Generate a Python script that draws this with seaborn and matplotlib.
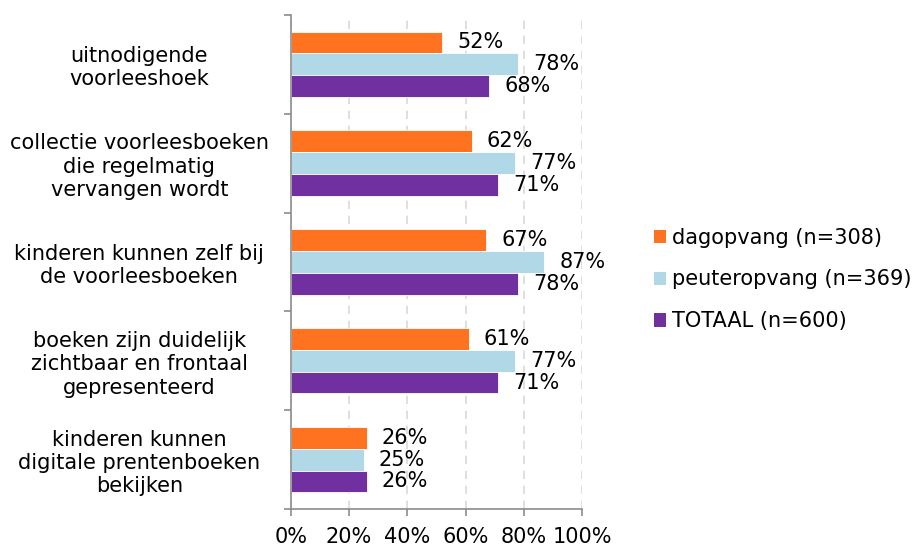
import pandas as pd
import matplotlib.pyplot as plt
import seaborn as sns
import matplotlib.ticker as mticker
from matplotlib.patches import Patch

sns.set_theme(style="white")
plt.rcParams['font.family'] = ['DejaVu Sans']

categorieen = [
    "uitnodigende\nvoorleeshoek",
    "collectie voorleesboeken\ndie regelmatig\nvervangen wordt",
    "kinderen kunnen zelf bij\nde voorleesboeken",
    "boeken zijn duidelijk\nzichtbaar en frontaal\ngepresenteerd",
    "kinderen kunnen\ndigitale prentenboeken\nbekijken",
]
reeksen = ["dagopvang (n=308)", "peuteropvang (n=369)", "TOTAAL (n=600)"]
dagopvang = [52, 62, 67, 61, 26]
peuteropvang = [78, 77, 87, 77, 25]
totaal = [68, 71, 78, 71, 26]
kleuren = ["#FF7220", "#B0D8E6", "#7030A0"]

rijen = []
for reeks, waarden in zip(reeksen, [dagopvang, peuteropvang, totaal]):
    for cat, w in zip(categorieen, waarden):
        rijen.append({"categorie": cat, "reeks": reeks, "waarde": float(w)})
df = pd.DataFrame(rijen)
# categorische kolommen (stringkolommen gaan mis met deze seaborn-versie)
df["categorie"] = pd.Categorical(df["categorie"], categories=categorieen)
df["reeks"] = pd.Categorical(df["reeks"], categories=reeksen)

fig = plt.figure(figsize=(9.2, 5.48), dpi=100)
ax = fig.add_axes([0.316, 0.071, 0.317, 0.902])

sns.barplot(data=df, y="categorie", x="waarde", hue="reeks", palette=kleuren,
            width=0.66, orient="h", saturation=1, ax=ax, errorbar=None, legend=False,
            linewidth=0.6, edgecolor="white")

# Labels naast de balken
for container in ax.containers:
    ax.bar_label(container, labels=[f"{v:.0f}%" for v in container.datavalues],
                 padding=11, fontsize=15, color="black")

ax.set_xlim(0, 100)
ax.set_ylim(len(categorieen) - 0.5, -0.5)
ax.xaxis.set_major_locator(mticker.MultipleLocator(20))
ax.xaxis.set_major_formatter(mticker.FuncFormatter(lambda v, p: f"{v:.0f}%"))
ax.grid(axis='x', linestyle=(0, (5, 4)), color="#D9D9D9", linewidth=1.2)
ax.set_axisbelow(True)

ax.set_yticks(range(len(categorieen)))
ax.set_yticklabels(categorieen, ha="center", fontsize=15, linespacing=1.2, color="black")
ax.tick_params(axis='y', which='major', length=0, pad=109)
ax.yaxis.set_minor_locator(mticker.FixedLocator([i - 0.5 for i in range(len(categorieen) + 1)]))
ax.tick_params(axis='y', which='minor', length=5, color="#8C8C8C", width=1.2, left=True)
ax.tick_params(axis='x', which='major', length=5, color="#8C8C8C", width=1.2, bottom=True,
               labelsize=15, labelcolor="black", pad=8)

for s in ["top", "right"]:
    ax.spines[s].set_visible(False)
for s in ["left", "bottom"]:
    ax.spines[s].set_color("#8C8C8C")
    ax.spines[s].set_linewidth(1.2)

ax.set_xlabel("")
ax.set_ylabel("")

handles = [Patch(facecolor=k, edgecolor="none") for k in kleuren]
fig.legend(handles, reeksen, loc="center left", bbox_to_anchor=(0.69, 0.49),
           frameon=False, fontsize=15, handlelength=0.6, handleheight=0.6,
           handletextpad=0.3, labelspacing=1.05, labelcolor="black")

plt.savefig("out.png", dpi=100)
plt.close(fig)
